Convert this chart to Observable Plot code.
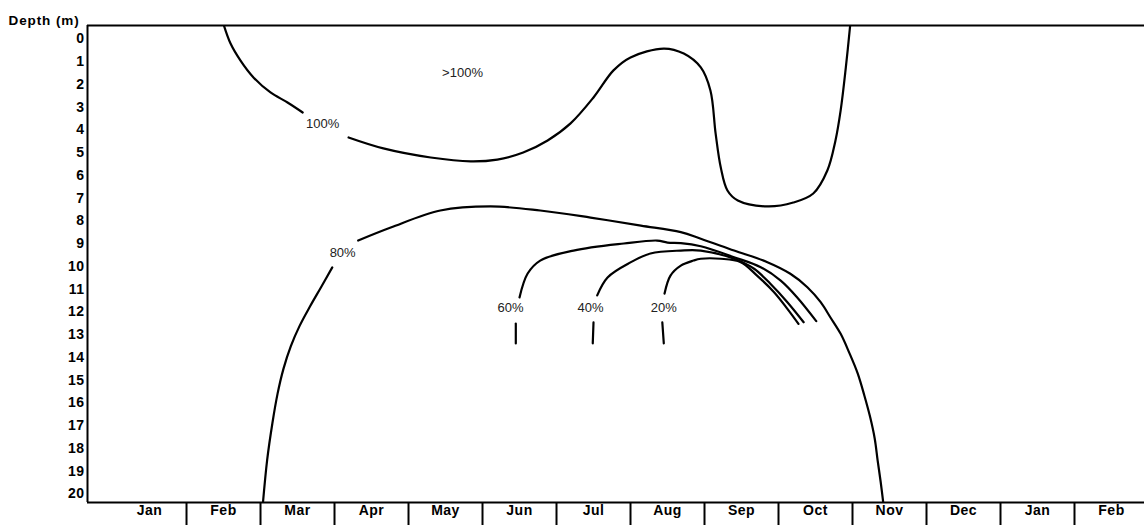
<!DOCTYPE html>
<html>
<head>
<meta charset="utf-8">
<script src="https://cdn.jsdelivr.net/npm/d3@7"></script>
<script src="https://cdn.jsdelivr.net/npm/@observablehq/plot@0.6"></script>
<style>
  html, body { margin: 0; padding: 0; background: #fff; }
  svg { display: block; font-family: "Liberation Sans", Arial, sans-serif; }
  /* bold axis text is set slightly wide */
  g[font-size="14"] text { letter-spacing: 0.5px; }
  g[font-size="13.5"] text { letter-spacing: 0.9px; }
</style>
</head>
<body>
<div id="chart"></div>
<script>
// Month labels along the bottom (Jan of year 1 to Feb of year 2)
const months = ["Jan", "Feb", "Mar", "Apr", "May", "Jun", "Jul", "Aug", "Sep", "Oct", "Nov", "Dec", "Jan", "Feb"];
// Month boundaries where the small separators are drawn
const monthBoundaries = [1, 2, 3, 4, 5, 6, 7, 8, 9, 10, 11, 12, 13];
// Depth tick labels (m)
const depthTicks = [0, 1, 2, 3, 4, 5, 6, 7, 8, 9, 10, 11, 12, 13, 14, 15, 16, 17, 18, 19, 20];

// Isoline segments: [month position (0 = start of Jan), depth (m)]
const line100a = [[1.50, -0.65], [1.595, 0.20], [1.73, 0.95], [1.905, 1.69], [2.135, 2.35], [2.365, 2.79], [2.57, 3.23]];
const line100b = [[3.19, 4.33], [3.66, 4.81], [4.30, 5.21], [4.84, 5.38], [5.20, 5.30], [5.55, 4.99], [5.88, 4.46],
  [6.19, 3.71], [6.50, 2.57], [6.77, 1.38], [7.00, 0.81], [7.45, 0.42], [7.72, 0.64], [7.95, 1.25], [8.08, 2.26],
  [8.15, 4.15], [8.22, 5.65], [8.31, 6.66], [8.45, 7.10], [8.85, 7.36], [9.20, 7.19], [9.47, 6.79], [9.66, 5.78],
  [9.77, 4.46], [9.84, 3.14], [9.91, 1.25], [9.97, -0.65]];
const line80a = [[2.03, 20.5], [2.09, 18.5], [2.16, 16.9], [2.23, 15.6], [2.31, 14.5], [2.41, 13.5], [2.53, 12.6],
  [2.67, 11.75], [2.82, 10.9], [2.97, 10.04]];
const line80b = [[3.32, 8.86], [3.76, 8.29], [4.43, 7.54], [5.11, 7.36], [5.78, 7.54], [6.46, 7.85], [7.14, 8.20],
  [7.68, 8.49], [7.95, 8.78], [8.40, 9.30], [8.85, 9.81], [9.16, 10.32], [9.39, 10.91], [9.57, 11.57], [9.70, 12.23],
  [9.84, 12.96], [9.96, 13.82], [10.07, 14.70], [10.16, 15.67], [10.24, 16.64], [10.30, 17.56], [10.34, 18.53],
  [10.38, 19.45], [10.42, 20.5]];
const line60a = [[5.50, 11.36], [5.61, 10.31], [5.78, 9.74], [6.23, 9.30], [6.91, 8.99], [7.36, 8.86], [7.50, 8.95],
  [7.68, 8.97], [7.95, 9.11], [8.40, 9.59], [8.76, 10.03], [9.03, 10.62], [9.25, 11.35], [9.51, 12.40]];
const line60b = [[5.45, 12.51], [5.45, 13.38]];
const line40a = [[6.55, 11.27], [6.69, 10.48], [7.00, 9.82], [7.27, 9.43], [7.68, 9.30], [7.95, 9.30], [8.40, 9.66],
  [8.67, 10.10], [8.89, 10.76], [9.12, 11.57], [9.34, 12.45]];
const line40b = [[6.50, 12.46], [6.49, 13.38]];
const line20a = [[7.46, 11.19], [7.54, 10.40], [7.68, 9.96], [7.85, 9.74], [7.95, 9.66], [8.22, 9.66], [8.49, 9.81],
  [8.71, 10.40], [8.94, 11.13], [9.12, 11.86], [9.27, 12.52]];
const line20b = [[7.43, 12.46], [7.45, 13.38]];

// Isoline labels
const labelText = [">100%", "100%", "80%", "60%", "40%", "20%"];
const labelMonth = [4.73, 2.84, 3.11, 5.38, 6.46, 7.45];
const labelDepth = [1.47, 3.71, 9.38, 11.80, 11.80, 11.80];

const segments = {line100a, line100b, line80a, line80b, line60a, line60b, line40a, line40b, line20a, line20b};
const lineRows = Object.entries(segments).flatMap(([seg, pts]) =>
  pts.map(([m, d]) => ({seg, month: m, depth: d})));
const labelRows = labelText.map((t, i) => ({text: t, month: labelMonth[i], depth: labelDepth[i]}));

const xDomain = [-0.338, 13.946];
const yDomain = [-0.593, 20.374];

const chart = Plot.plot({
  width: 1144,
  height: 525,
  marginTop: 25,
  marginBottom: 23,
  marginLeft: 87,
  marginRight: 0,
  x: {domain: xDomain, axis: null},
  y: {domain: yDomain, reverse: true, axis: null},
  marks: [
    // isolines
    Plot.line(lineRows, {x: "month", y: "depth", z: "seg", curve: "catmull-rom",
      stroke: "#000", strokeWidth: 2.2, clip: true}),
    // isoline labels
    Plot.text(labelRows, {x: "month", y: "depth", text: "text", fill: "#222",
      fontSize: 13, textAnchor: "middle"}),
    // frame: top, bottom and left edges
    Plot.ruleY([yDomain[0], yDomain[1]], {stroke: "#000", strokeWidth: 2}),
    Plot.ruleX([xDomain[0]], {stroke: "#000", strokeWidth: 2}),
    // month separators below the bottom edge
    Plot.ruleX(monthBoundaries, {y1: yDomain[1], y2: 21.45, stroke: "#000", strokeWidth: 2}),
    // month labels
    Plot.text(months, {x: (d, i) => i + 0.5, frameAnchor: "bottom", dy: 12.5, text: d => d,
      fontWeight: "bold", fontSize: 14, fill: "#000"}),
    // depth tick labels
    Plot.text(depthTicks, {y: d => d, frameAnchor: "left", dx: -3, text: d => String(d),
      textAnchor: "end", fontWeight: "bold", fontSize: 14, fill: "#000"}),
    // axis title
    Plot.text(["Depth (m)"], {frameAnchor: "top-left", dx: -79, dy: -10, text: d => d,
      textAnchor: "start", fontWeight: "bold", fontSize: 13.5, fill: "#000"})
  ]
});

document.getElementById("chart").appendChild(chart);
</script>
</body>
</html>
